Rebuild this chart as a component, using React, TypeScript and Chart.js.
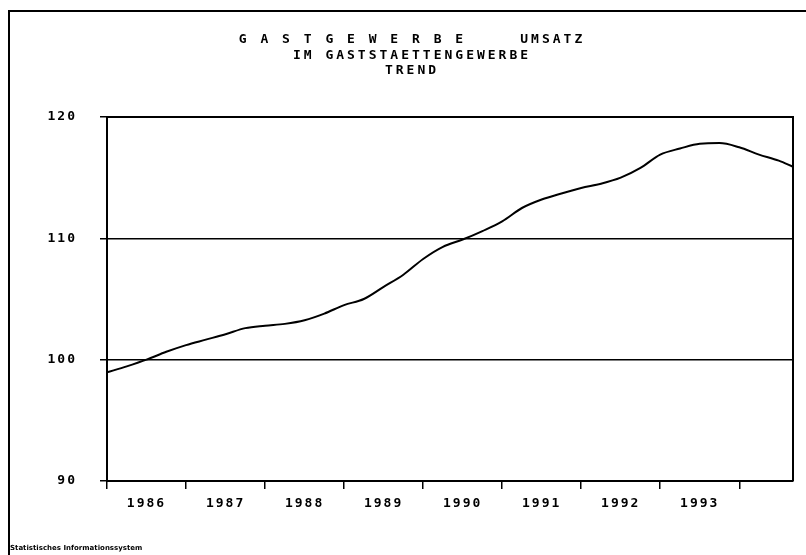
import React, { useEffect, useRef } from "react";
import { Chart, registerables } from "chart.js";

Chart.register(...registerables);

// Time positions (decimal years, quarterly) and trend values
const periods = [
  1986.0, 1986.25, 1986.5, 1986.75,
  1987.0, 1987.25, 1987.5, 1987.75,
  1988.0, 1988.25, 1988.5, 1988.75,
  1989.0, 1989.25, 1989.5, 1989.75,
  1990.0, 1990.25, 1990.5, 1990.75,
  1991.0, 1991.25, 1991.5, 1991.75,
  1992.0, 1992.25, 1992.5, 1992.75,
  1993.0, 1993.25, 1993.5, 1993.75,
  1994.0, 1994.25, 1994.5, 1994.68,
];
const trendValues = [
  98.95, 99.45, 100.0, 100.65,
  101.2, 101.65, 102.1, 102.6,
  102.8, 102.95, 103.25, 103.8,
  104.5, 105.0, 106.0, 107.0,
  108.3, 109.3, 109.9, 110.6,
  111.4, 112.5, 113.2, 113.7,
  114.15, 114.5, 115.0, 115.8,
  116.9, 117.4, 117.8, 117.85,
  117.5, 116.9, 116.4, 115.9,
];
const yearLabels = ["1986", "1987", "1988", "1989", "1990", "1991", "1992", "1993"];
const yearTicks = [1986, 1987, 1988, 1989, 1990, 1991, 1992, 1993, 1994];
const yMin = 90;
const yMax = 120;
const yStep = 10;
const xMin = 1986;
const xMax = 1994.68;
const titleLines = ["G A S T G E W E R B E     UMSATZ", "IM GASTSTAETTENGEWERBE", "TREND"];
const footerText = "Statistisches Informationssystem";

const MONO = '"DejaVu Sans Mono", monospace';

const decorPlugin = {
  id: "decor",
  beforeDraw(chart: any) {
    const ctx = chart.ctx as CanvasRenderingContext2D;
    ctx.save();
    ctx.fillStyle = "#fff";
    ctx.fillRect(0, 0, chart.width, chart.height);
    ctx.restore();
    (ctx as any).letterSpacing = "2px";
  },
  afterDraw(chart: any) {
    const ctx = chart.ctx as CanvasRenderingContext2D;
    const { left, right, top, bottom } = chart.chartArea;
    ctx.save();
    // outer frame
    ctx.strokeStyle = "#000";
    ctx.lineWidth = 2;
    ctx.beginPath();
    ctx.moveTo(806, 11);
    ctx.lineTo(9, 11);
    ctx.lineTo(9, 555);
    ctx.stroke();
    // plot frame
    ctx.beginPath();
    ctx.moveTo(left, top);
    ctx.lineTo(right, top);
    ctx.lineTo(right, bottom);
    ctx.stroke();
    // title
    ctx.fillStyle = "#000";
    ctx.textAlign = "center";
    ctx.textBaseline = "middle";
    (ctx as any).letterSpacing = "3px";
    ctx.font = `bold 13px ${MONO}`;
    const cx = 412;
    titleLines.forEach((t, i) => {
      ctx.fillText(t, cx, 40 + i * 15.5);
    });
    // footer
    (ctx as any).letterSpacing = "0px";
    ctx.textAlign = "left";
    ctx.font = 'bold 7px "DejaVu Sans", sans-serif';
    ctx.fillText(footerText, 10, 548);
    ctx.restore();
  },
};

export default function App() {
  const ref = useRef<HTMLCanvasElement | null>(null);
  useEffect(() => {
    document.body.style.margin = "0";
    const canvas = ref.current!;
    const halfTicks = yearLabels.map((y) => Number(y) + 0.5);
    const chart = new Chart(canvas, {
      type: "line",
      data: {
        datasets: [
          {
            data: periods.map((x, i) => ({ x, y: trendValues[i] })),
            borderColor: "#000",
            borderWidth: 2,
            pointRadius: 0,
            cubicInterpolationMode: "monotone",
            fill: false,
          },
        ],
      },
      options: {
        animation: false,
        responsive: false,
        maintainAspectRatio: false,
        layout: { padding: { left: 0, right: 13, top: 117, bottom: 0 } },
        plugins: { legend: { display: false }, title: { display: false }, tooltip: { enabled: false } },
        scales: {
          x: {
            type: "linear",
            min: xMin,
            max: xMax,
            afterBuildTicks: (axis: any) => {
              const all = [...yearTicks, ...halfTicks].sort((a, b) => a - b);
              axis.ticks = all.map((v) => ({ value: v }));
            },
            afterFit: (axis: any) => {
              axis.height = 555 - 481;
            },
            grid: {
              display: true,
              drawOnChartArea: false,
              drawTicks: true,
              tickLength: 8,
              lineWidth: 1.5,
              color: (c: any) => (c.tick && Number.isInteger(c.tick.value) ? "#000" : "rgba(0,0,0,0)"),
            },
            border: { display: true, color: "#000", width: 2 },
            ticks: {
              autoSkip: false,
              maxRotation: 0,
              minRotation: 0,
              padding: 7,
              color: "#000",
              font: { family: MONO, size: 13, weight: "bold" },
              callback: (v: any) => {
                const n = Number(v);
                return Number.isInteger(n) ? "" : String(Math.floor(n));
              },
            },
          },
          y: {
            min: yMin,
            max: yMax,
            afterFit: (axis: any) => {
              axis.width = 107;
            },
            grid: {
              display: true,
              drawOnChartArea: true,
              drawTicks: true,
              tickLength: 7,
              lineWidth: 1.5,
              color: "#000",
            },
            border: { display: true, color: "#000", width: 2 },
            ticks: {
              stepSize: yStep,
              padding: 23,
              color: "#000",
              font: { family: MONO, size: 13, weight: "bold" },
            },
          },
        },
      },
      plugins: [decorPlugin],
    });
    return () => chart.destroy();
  }, []);
  return (
    <div style={{ position: "absolute", left: 0, top: 0 }}>
      <canvas ref={ref} width={806} height={555} style={{ display: "block" }} />
    </div>
  );
}
